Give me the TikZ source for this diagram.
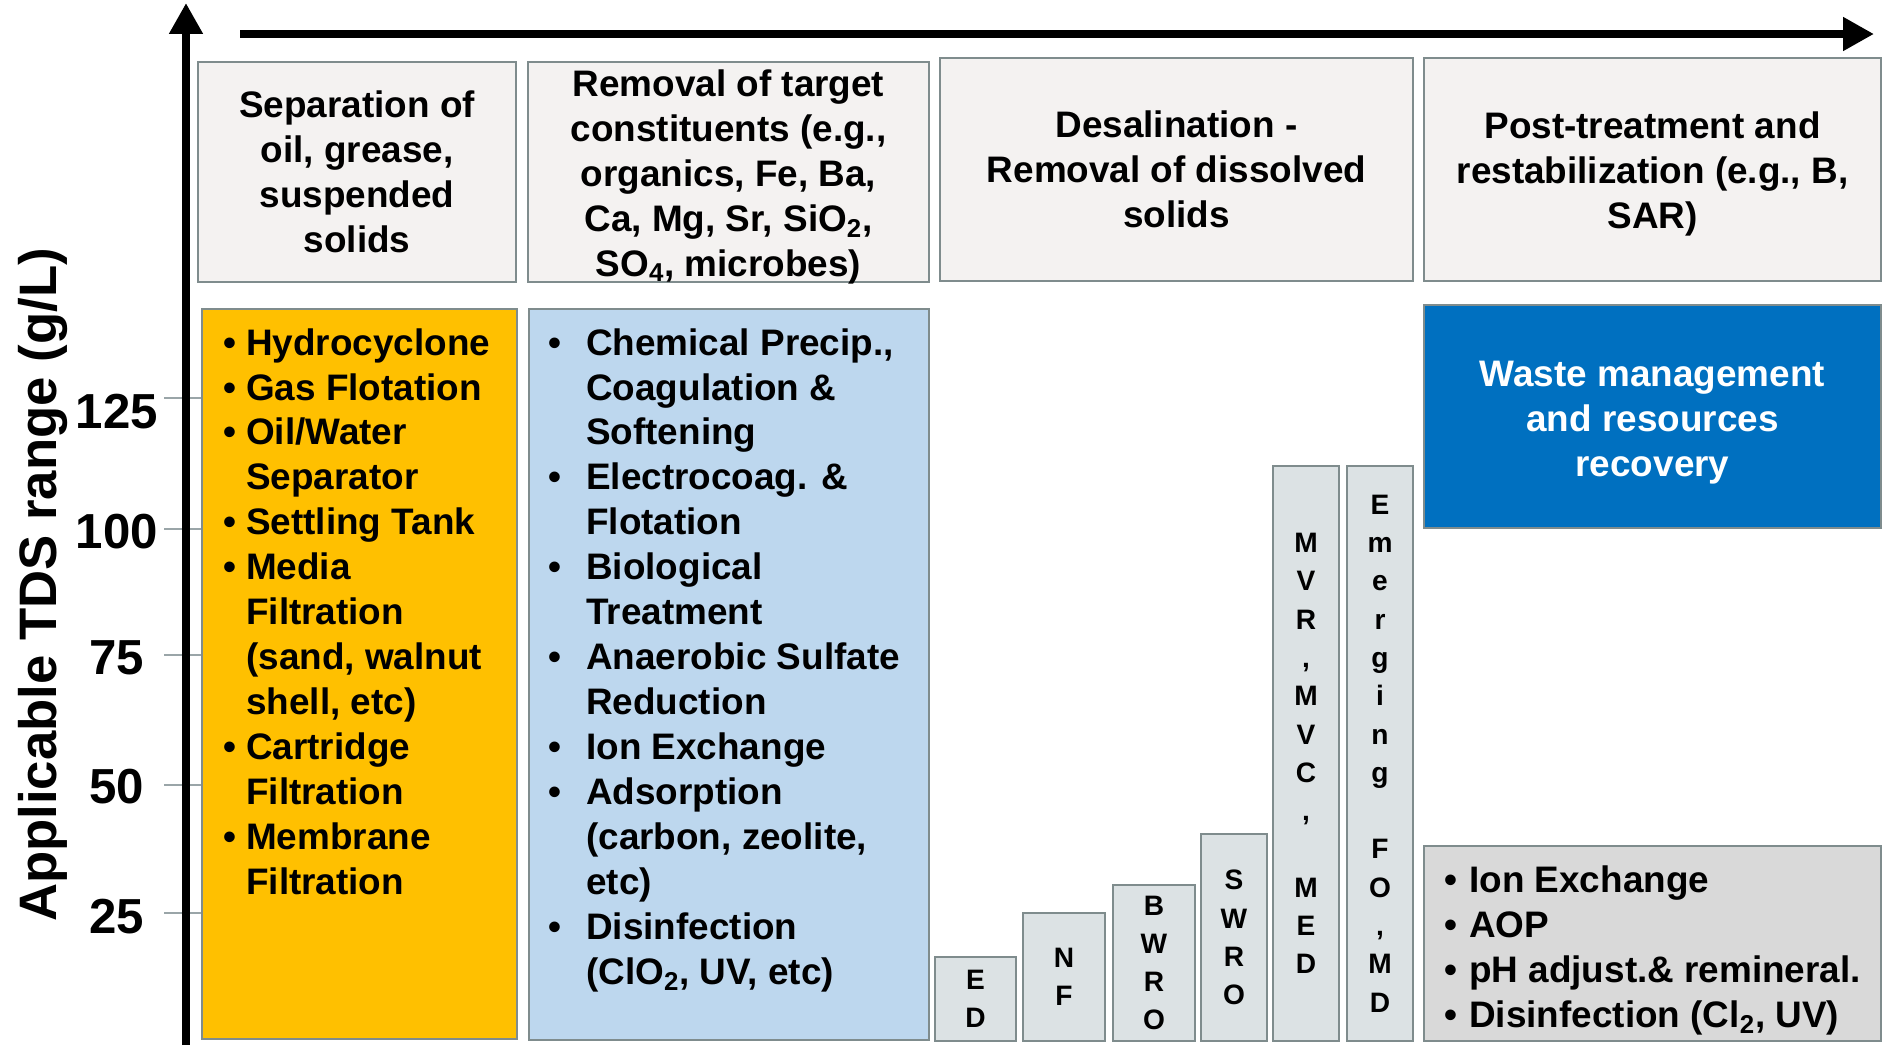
\documentclass[tikz,border=0pt]{standalone}
\usepackage{fontspec}
\setmainfont{Liberation Sans}
\usepackage{tikz}
\usetikzlibrary{positioning,arrows.meta}

\definecolor{edgegray}{HTML}{7F8C8D}
\definecolor{hdrfill}{HTML}{F4F2F1}
\definecolor{stackfill}{HTML}{DCE2E4}
\definecolor{pretreat}{HTML}{FFC000}
\definecolor{targetblue}{HTML}{BDD7EE}
\definecolor{wasteblue}{HTML}{0070C0}
\definecolor{postgray}{HTML}{D9D9D9}
\definecolor{tickgray}{HTML}{9AA5A8}

\newcommand{\hdrfont}{\fontsize{21}{25.6}\selectfont\bfseries}
\newcommand{\stkfont}{\fontsize{16}{21.8}\selectfont\bfseries}
\newcommand{\tickfont}{\fontsize{28}{32}\selectfont\bfseries}
\newcommand{\bul}[1]{\makebox[#1][l]{\textbullet}}
\newcommand{\bulgap}[1]{\makebox[#1]{}}

\tikzset{
  hdr/.style={draw=edgegray, line width=1.3pt, fill=hdrfill, align=center, font=\hdrfont, inner sep=0pt},
  tbox/.style={draw=edgegray, line width=1.3pt, inner sep=0pt},
  stack/.style={tbox, fill=stackfill, align=center, font=\stkfont},
  lst/.style={align=left, font=\hdrfont, inner sep=0pt},
  boxtext/.style={align=center, font=\hdrfont, inner sep=0pt},
  axis/.style={line width=5pt, -{Triangle[length=0.62cm,width=0.64cm]}},
}

\begin{document}
\begin{tikzpicture}[x=0.02cm, y=-0.02cm]
\useasboundingbox (0,0) rectangle (1883,1045);

\foreach \val/\ty/\ly in {125/398/412,100/529/532,75/655/658,50/785/787,25/913/917}{
  \draw[tickgray, line width=0.8pt] (164,\ty) -- (201,\ty);
  \node[font=\tickfont, inner sep=0pt] (tick\val) at (117,\ly) {\val};
}
\coordinate (ybot) at (186,1045);
\coordinate (ytop) at (186,3);
\coordinate (xleft) at (240,34);
\coordinate (xright) at (1874,34);
\draw[axis] (ybot) -- (ytop);
\draw[axis] (xleft) -- (xright);
\node[rotate=90, anchor=base, inner sep=0pt, font=\fontsize{30}{34}\selectfont\bfseries] (ylab) at (56,585) {Applicable TDS range (g/L)};

\node[hdr, minimum width=6.36cm, minimum height=4.4cm] (sepHdr) at (357,172) {Separation of\\oil, grease,\\suspended\\solids};
\node[hdr, minimum width=8.02cm, minimum height=4.4cm] (remHdr) at (728.5,172) {};
\node[boxtext] (remTxt) at ([yshift=-0.1cm]remHdr.center) {Removal of target\\constituents (e.g.,\\organics, Fe, Ba,\\Ca, Mg, Sr, SiO\textsubscript{2},\\SO\textsubscript{4}, microbes)};
\node[hdr, minimum width=9.46cm, minimum height=4.46cm] (desHdr) at (1176.5,169.5) {Desalination -\\Removal of dissolved\\solids};
\node[hdr, minimum width=9.14cm, minimum height=4.46cm] (postHdr) at (1652.5,169.5) {};
\node[boxtext] (postTxt) at ([yshift=-0.09cm]postHdr.center) {Post-treatment and\\restabilization (e.g., B,\\SAR)};

\node[tbox, fill=pretreat, minimum width=6.3cm, minimum height=14.6cm] (sep) at (359.5,674) {};
\node[lst, below right=0.4cm and 0.45cm of sep.north west] (sepList) {\bul{0.45cm}Hydrocyclone\\\bul{0.45cm}Gas Flotation\\\bul{0.45cm}Oil/Water\\\bulgap{0.45cm}Separator\\\bul{0.45cm}Settling Tank\\\bul{0.45cm}Media\\\bulgap{0.45cm}Filtration\\\bulgap{0.45cm}(sand, walnut\\\bulgap{0.45cm}shell, etc)\\\bul{0.45cm}Cartridge\\\bulgap{0.45cm}Filtration\\\bul{0.45cm}Membrane\\\bulgap{0.45cm}Filtration};

\node[tbox, fill=targetblue, minimum width=8cm, minimum height=14.62cm] (rem) at (729,674.5) {};
\node[lst, below right=0.4cm and 0.4cm of rem.north west] (remList) {\bul{0.76cm}Chemical Precip.,\\\bulgap{0.76cm}Coagulation \&\\\bulgap{0.76cm}Softening\\\bul{0.76cm}Electrocoag. \&\\\bulgap{0.76cm}Flotation\\\bul{0.76cm}Biological\\\bulgap{0.76cm}Treatment\\\bul{0.76cm}Anaerobic Sulfate\\\bulgap{0.76cm}Reduction\\\bul{0.76cm}Ion Exchange\\\bul{0.76cm}Adsorption\\\bulgap{0.76cm}(carbon, zeolite,\\\bulgap{0.76cm}etc)\\\bul{0.76cm}Disinfection\\\bulgap{0.76cm}(ClO\textsubscript{2}, UV, etc)};

\node[stack, minimum width=1.62cm, minimum height=1.68cm] (ed) at (975.5,999) {E\\D};
\node[stack, minimum width=1.64cm, minimum height=2.56cm] (nf) at (1064,977) {N\\F};
\node[stack, minimum width=1.64cm, minimum height=3.12cm] (bwro) at (1154,963) {B\\W\\R\\O};
\node[stack, minimum width=1.32cm, minimum height=4.14cm] (swro) at (1234,937.5) {S\\W\\R\\O};
\node[stack, minimum width=1.32cm, minimum height=11.5cm] (mvr) at (1306,753.5) {M\\V\\R\\,\\M\\V\\C\\,\\~\\M\\E\\D};
\node[stack, minimum width=1.32cm, minimum height=11.5cm] (emerg) at (1380,753.5) {E\\m\\e\\r\\g\\i\\n\\g\\~\\F\\O\\,\\M\\D};

\node[tbox, fill=wasteblue, minimum width=9.14cm, minimum height=4.46cm] (waste) at (1652.5,416.5) {};
\node[boxtext, text=white] (wasteTxt) at ([yshift=-0.12cm]waste.center) {Waste management\\and resources\\recovery};
\node[tbox, fill=postgray, minimum width=9.14cm, minimum height=3.9cm] (post) at (1652.5,943.5) {};
\node[lst, below right=0.42cm and 0.43cm of post.north west] (postList) {\bul{0.49cm}Ion Exchange\\\bul{0.49cm}AOP\\\bul{0.49cm}pH adjust.\& remineral.\\\bul{0.49cm}Disinfection (Cl\textsubscript{2}, UV)};
\end{tikzpicture}
\end{document}
